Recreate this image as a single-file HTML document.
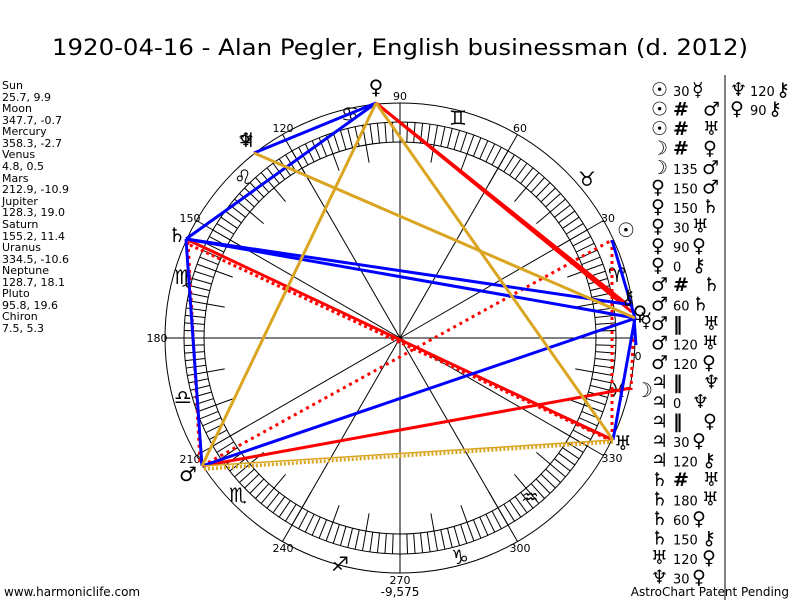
<!DOCTYPE html>
<html><head><meta charset="utf-8"><style>
body{margin:0;background:#fff;width:800px;height:600px;overflow:hidden}
svg{display:block}
.g{font-family:"DejaVu Sans",sans-serif;font-size:20px;fill:#000}
.gl{font-family:"DejaVu Sans",sans-serif;font-size:19px;fill:#000}
.n{font-family:"DejaVu Sans",sans-serif;font-size:13px;fill:#000}
.l{font-family:"DejaVu Sans",sans-serif;font-size:11px;fill:#000}
.d{font-family:"DejaVu Sans",sans-serif;font-size:11px;fill:#000;text-anchor:middle}
</style></head><body>
<svg id="s" width="800" height="600" xmlns="http://www.w3.org/2000/svg">
<rect width="800" height="600" fill="#fff"/>
<text x="400" y="55" font-family="DejaVu Sans, sans-serif" font-size="22" text-anchor="middle" textLength="696" lengthAdjust="spacingAndGlyphs">1920-04-16 - Alan Pegler, English businessman (d. 2012)</text>
<g fill="none" stroke="#000" stroke-width="1">
<circle cx="400" cy="338" r="235"/>
<circle cx="400" cy="338" r="216"/>
<circle cx="400" cy="338" r="196"/>
</g>
<g id="ticks" stroke="#000" stroke-width="1"></g>
<g class="d">
<text x="400" y="100">90</text><text x="520" y="132">60</text><text x="608" y="222">30</text>
<text x="638" y="360">0</text><text x="612" y="462">330</text><text x="520" y="552">300</text>
<text x="400" y="584">270</text><text x="283" y="552">240</text><text x="190" y="463">210</text>
<text x="157" y="342">180</text><text x="190" y="222">150</text><text x="283" y="132">120</text>
</g>
<g class="g" text-anchor="middle">
<text x="458" y="125">♊</text><text x="350" y="121">♋</text><text x="243" y="184">♌</text>
<text x="183" y="284">♍</text><text x="183" y="404">♎</text><text x="238" y="502">♏</text>
<text x="340" y="571">♐</text><text x="460" y="564">♑</text><text x="530" y="504">♒</text>
<text x="587" y="186">♉</text><text x="617" y="282">♈</text><text x="618" y="397">♓</text>
</g>
<g stroke-width="3" fill="none">
<line x1="376" y1="103" x2="632" y2="312" stroke="#f00"/>
<line x1="376" y1="103" x2="628" y2="305" stroke="#f00"/>
<line x1="186" y1="239" x2="613" y2="440" stroke="#f00"/>
<line x1="190" y1="245" x2="610" y2="440" stroke="#f00" stroke-dasharray="3,3"/>
<line x1="202" y1="466" x2="631" y2="388" stroke="#f00"/>
<line x1="202" y1="466" x2="612" y2="240" stroke="#f00" stroke-dasharray="3,4"/>
<line x1="612" y1="240" x2="612" y2="440" stroke="#f00" stroke-dasharray="3,4"/>
<line x1="634" y1="318" x2="631" y2="390" stroke="#f00" stroke-dasharray="3,4"/>
<line x1="188" y1="242" x2="200" y2="462" stroke="#f00" stroke-dasharray="3,4"/>
<line x1="376" y1="103" x2="254" y2="153" stroke="#00f"/>
<line x1="376" y1="103" x2="186" y2="239" stroke="#00f"/>
<line x1="186" y1="239" x2="202" y2="466" stroke="#00f"/>
<line x1="186" y1="239" x2="635" y2="318" stroke="#00f"/>
<line x1="186" y1="239" x2="632" y2="305" stroke="#00f"/>
<line x1="202" y1="466" x2="636" y2="318" stroke="#00f"/>
<line x1="612" y1="240" x2="635" y2="318" stroke="#00f"/>
<line x1="635" y1="318" x2="613" y2="440" stroke="#00f"/>
<line x1="634" y1="318" x2="636" y2="345" stroke="#00f"/>
<line x1="254" y1="153" x2="635" y2="318" stroke="#daa520"/>
<line x1="376" y1="103" x2="202" y2="466" stroke="#daa520"/>
<line x1="376" y1="103" x2="613" y2="440" stroke="#daa520"/>
<line x1="202" y1="466" x2="613" y2="440" stroke="#daa520" stroke-width="1.5"/>
<line x1="204" y1="469" x2="613" y2="442" stroke="#daa520" stroke-dasharray="2,2" stroke-width="3.5"/>
</g>
<g class="g" text-anchor="middle">
<text x="376" y="94">♀</text><text x="246" y="147">♆</text><text x="246" y="147">♃</text>
<text x="177" y="242">♄</text><text x="188" y="481">♂</text><text x="626" y="237">☉</text>
<text x="644" y="397">☽</text><text x="623" y="450">♅</text><text x="646" y="327">☿</text>
<text x="640" y="320">♀</text><text x="628" y="304">⚷</text>
</g>
<g class="l">
<text x="2" y="89">Sun</text><text x="2" y="101">25.7, 9.9</text>
<text x="2" y="112">Moon</text><text x="2" y="124">347.7, -0.7</text>
<text x="2" y="135">Mercury</text><text x="2" y="147">358.3, -2.7</text>
<text x="2" y="158">Venus</text><text x="2" y="170">4.8, 0.5</text>
<text x="2" y="182">Mars</text><text x="2" y="193">212.9, -10.9</text>
<text x="2" y="205">Jupiter</text><text x="2" y="216">128.3, 19.0</text>
<text x="2" y="228">Saturn</text><text x="2" y="240">155.2, 11.4</text>
<text x="2" y="251">Uranus</text><text x="2" y="263">334.5, -10.6</text>
<text x="2" y="274">Neptune</text><text x="2" y="286">128.7, 18.1</text>
<text x="2" y="297">Pluto</text><text x="2" y="309">95.8, 19.6</text>
<text x="2" y="320">Chiron</text><text x="2" y="332">7.5, 5.3</text>
</g>
<line x1="725" y1="75" x2="725" y2="600" stroke="#000"/>
<g id="leg"></g>
<g>
<text x="730" y="96" class="gl">♆</text><text x="750" y="96" class="n">120</text><text x="776" y="96" class="gl">⚷</text>
<text x="730" y="115" class="gl">♀</text><text x="750" y="115" class="n">90</text><text x="768" y="115" class="gl">⚷</text>
</g>
<text x="4" y="596" font-family="DejaVu Sans, sans-serif" font-size="12">www.harmoniclife.com</text>
<text x="400" y="596" font-family="DejaVu Sans, sans-serif" font-size="12" text-anchor="middle">-9,575</text>
<text x="789" y="596" font-family="DejaVu Sans, sans-serif" font-size="12" text-anchor="end">AstroChart Patent Pending</text>
</svg>
<script>
var NS="http://www.w3.org/2000/svg",t=document.getElementById("ticks");
function ln(g,a,r1,r2){var c=Math.cos(a*Math.PI/180),s=Math.sin(a*Math.PI/180),e=document.createElementNS(NS,"line");
e.setAttribute("x1",400+r1*c);e.setAttribute("y1",338-r1*s);e.setAttribute("x2",400+r2*c);e.setAttribute("y2",338-r2*s);g.appendChild(e);}
for(var a=0;a<360;a+=2){ln(t,a,a%10==0?178:196,216);}
for(var a=0;a<360;a+=30){ln(t,a,0,235);}
var P="♀";
var rows=[["☉","30","☿"],["☉","#","♂"],["☉","#","♅"],["☽","#","♀"],["☽","135","♂"],["♀","150","♂"],["♀","150","♄"],["♀","30","♅"],["♀","90",P],["♀","0","⚷"],["♂","#","♄"],["♂","60","♄"],["♂","‖","♅"],["♂","120","♅"],["♂","120",P],["♃","‖","♆"],["♃","0","♆"],["♃","‖",P],["♃","30",P],["♃","120","⚷"],["♄","#","♅"],["♄","180","♅"],["♄","60",P],["♄","150","⚷"],["♅","120",P],["♆","30",P]];
var L=document.getElementById("leg");
rows.forEach(function(r,i){var y=96+i*19.5;
function tx(x,s,c,b){var e=document.createElementNS(NS,"text");e.setAttribute("x",x);e.setAttribute("y",y);e.setAttribute("class",c);if(b)e.setAttribute("font-weight","bold");e.textContent=s;L.appendChild(e);}
tx(651,r[0],"gl");var sym=(r[1]=="#"||r[1]=="‖");tx(673,r[1],sym?"gl":"n",sym);tx(r[1].length>=3?702:(sym?703:692),r[2],"gl");});
</script>
</body></html>
